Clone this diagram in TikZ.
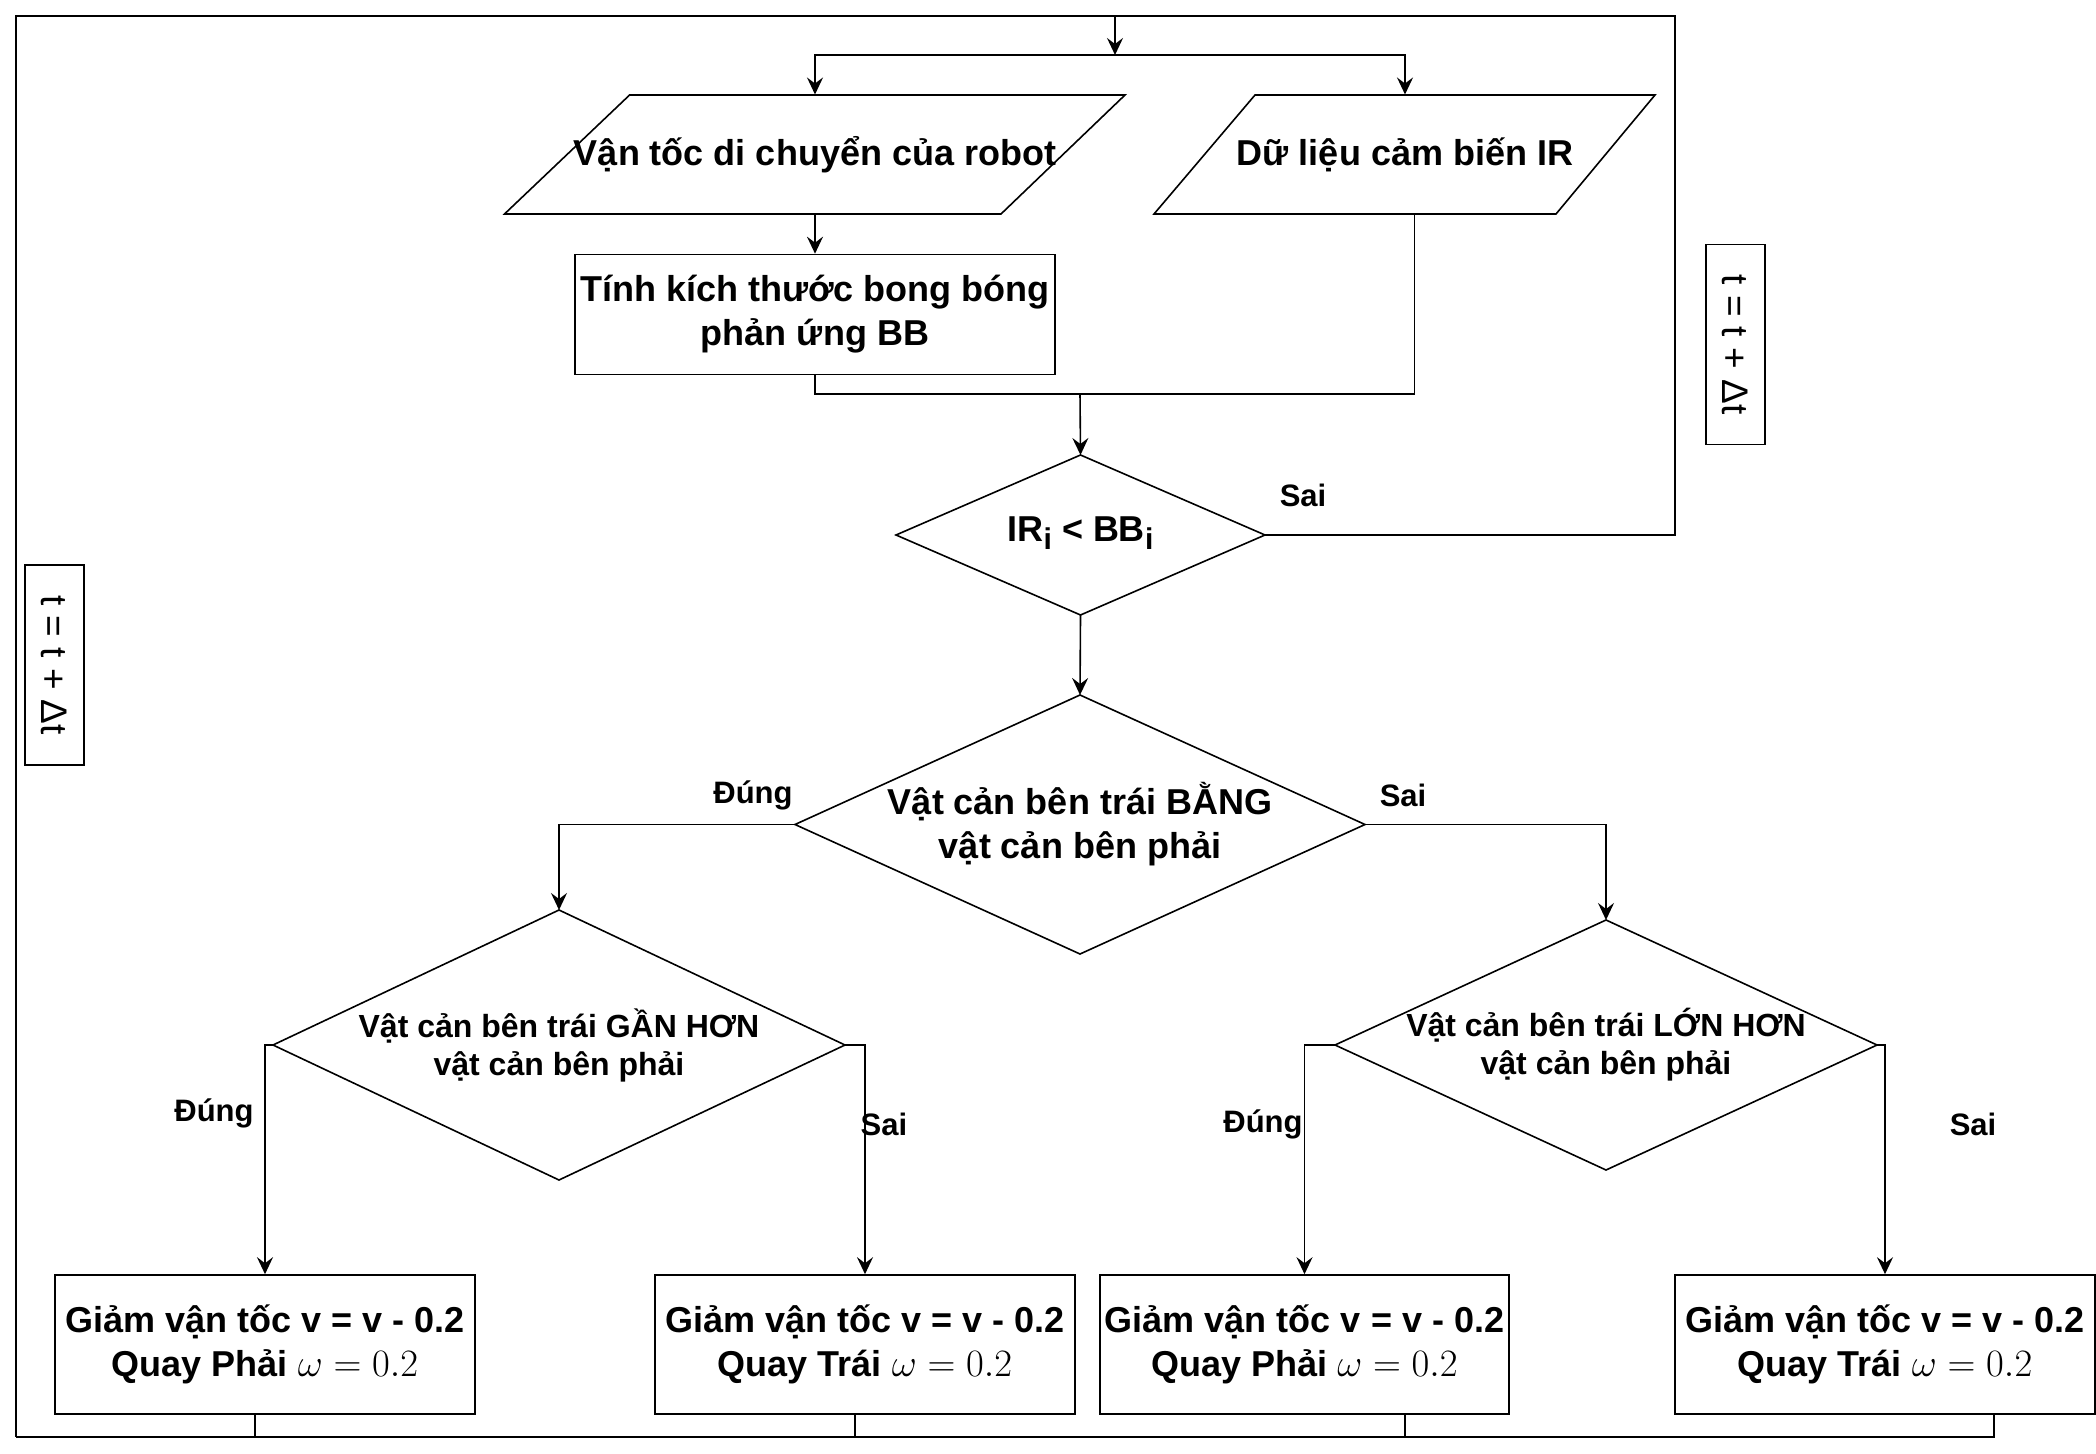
\documentclass[tikz,border=0pt]{standalone}
\usepackage{fontspec}
\setmainfont{Liberation Sans}
\usetikzlibrary{shapes.geometric,arrows.meta}
\newcommand{\omg}{\scalebox{1.12}{$\omega = 0.2$}}
\tikzset{
  line/.style={line width=0.8pt},
  arr/.style={line, -{Stealth[length=8.5pt,width=8pt,inset=3pt]}},
  big/.style={font=\bfseries\fontsize{18}{22}\selectfont, align=center, inner sep=0pt},
  small/.style={font=\bfseries\fontsize{16}{19}\selectfont, align=center, inner sep=0pt},
  lbl/.style={font=\bfseries\fontsize{15.5}{18}\selectfont, inner sep=0pt},
  box/.style={draw, line, rectangle, inner sep=0pt},
  dia/.style={draw, line, diamond, inner sep=0pt, outer sep=0pt},
  ghost/.style={rectangle, inner sep=0pt, outer sep=0pt},
  tbox/.style={draw, line, rectangle, inner sep=0pt, rotate=-90, font=\fontsize{18.5}{22}\selectfont, minimum width=100pt, minimum height=29.5pt},
}
\begin{document}
\begin{tikzpicture}[x=0.5pt,y=-0.5pt]
\useasboundingbox (0,0) rectangle (2096,1454);

% parallelograms
\node[ghost, minimum width=248pt, minimum height=60pt] (p1) at (815,154.5) {};
\draw[line] (629.6,95) -- (1125,95) -- (1001,214) -- (504.5,214) -- cycle;
\node[big] (p1t) at (p1.center) {Vận tốc di chuyển của robot};

\node[ghost, minimum width=200pt, minimum height=60pt] (p2) at (1405,154.5) {};
\draw[line] (1255,95) -- (1655,95) -- (1556,214) -- (1154,214) -- cycle;
\node[big] (p2t) at (p2.center) {Dữ liệu cảm biến IR};

% BB box
\node[box, big, minimum width=240pt, minimum height=60pt] (bb) at (815,314.5) {Tính kích thước bong bóng\\phản ứng BB};

% diamonds
\node[dia, minimum width=184.5pt, minimum height=80pt] (d1) at (1080.5,535) {};
\node[big] (d1t) at ([yshift=1pt]d1.center) {IR\raisebox{-0.45ex}{\fontsize{15}{18}\selectfont i} \textless{} BB\raisebox{-0.45ex}{\fontsize{15}{18}\selectfont i}};

\node[dia, minimum width=285pt, minimum height=129.5pt] (d2) at (1080,824.5) {};
\node[big] (d2t) at (d2.center) {Vật cản bên trái BẰNG\\vật cản bên phải};

\node[dia, minimum width=286pt, minimum height=135pt] (d3) at (559,1045) {};
\node[small] (d3t) at (d3.center) {Vật cản bên trái GẦN HƠN\\vật cản bên phải};

\node[dia, minimum width=271pt, minimum height=125pt] (d4) at (1606,1045) {};
\node[small] (d4t) at (d4.center) {Vật cản bên trái LỚN HƠN\\vật cản bên phải};

% action boxes
\node[box, big, minimum width=210pt, minimum height=69.5pt] (b1) at (265,1344.5) {Giảm vận tốc v = v - 0.2\\Quay Phải \omg};
\node[box, big, minimum width=210pt, minimum height=69.5pt] (b2) at (865,1344.5) {Giảm vận tốc v = v - 0.2\\Quay Trái \omg};
\node[box, big, minimum width=204.5pt, minimum height=69.5pt] (b3) at (1304.5,1344.5) {Giảm vận tốc v = v - 0.2\\Quay Phải \omg};
\node[box, big, minimum width=210pt, minimum height=69.5pt] (b4) at (1885,1344.5) {Giảm vận tốc v = v - 0.2\\Quay Trái \omg};

% t boxes
\node[tbox] (t1) at (1735.5,344.5) {t = t + Δt};
\node[tbox] (t2) at (54.5,665) {t = t + Δt};

% labels
\node[lbl] (l1) at (1303,495) {Sai};
\node[lbl] (l2) at (753,795) {Đúng};
\node[lbl] (l3) at (1403,795) {Sai};
\node[lbl] (l4) at (214,1113) {Đúng};
\node[lbl] (l5) at (884,1124) {Sai};
\node[lbl] (l6) at (1263,1124) {Đúng};
\node[lbl] (l7) at (1973,1124) {Sai};

% coordinates
\coordinate (top) at (1115,16);
\coordinate (split) at (1115,55);
\coordinate (cR) at (1675,16);
\coordinate (cL) at (16,16);
\coordinate (cLB) at (16,1437);
\coordinate (m) at (1080,394);

% connectors
\draw[arr] (top) -- (split);
\draw[arr] (split) -| (p1.north);
\draw[arr] (split) -| (p2.north);
\draw[arr] (p1.south) -- (bb.north);
\draw[line] (bb.south) |- (m);
\draw[line] ([xshift=4.75pt]p2.south) |- (m);
\draw[arr] (m) -- (d1.north);
\draw[line] (d1.east) -| (cR) -- (cL) -- (cLB);
\draw[arr] (d1.south) -- (d2.north);
\draw[arr] (d2.west) -| (d3.north);
\draw[arr] (d2.east) -| (d4.north);
\draw[arr] (d3.west) -| (b1.north);
\draw[arr] (d3.east) -| (b2.north);
\draw[arr] (d4.west) -| (b3.north);
\draw[arr] (d4.east) -| (b4.north);
\draw[line] ([xshift=-5pt]b1.south) |- (cLB);
\draw[line] ([xshift=-5pt]b2.south) |- (cLB);
\draw[line] ([xshift=50.25pt]b3.south) |- (cLB);
\draw[line] ([xshift=54.5pt]b4.south) |- (cLB);
\end{tikzpicture}
\end{document}
